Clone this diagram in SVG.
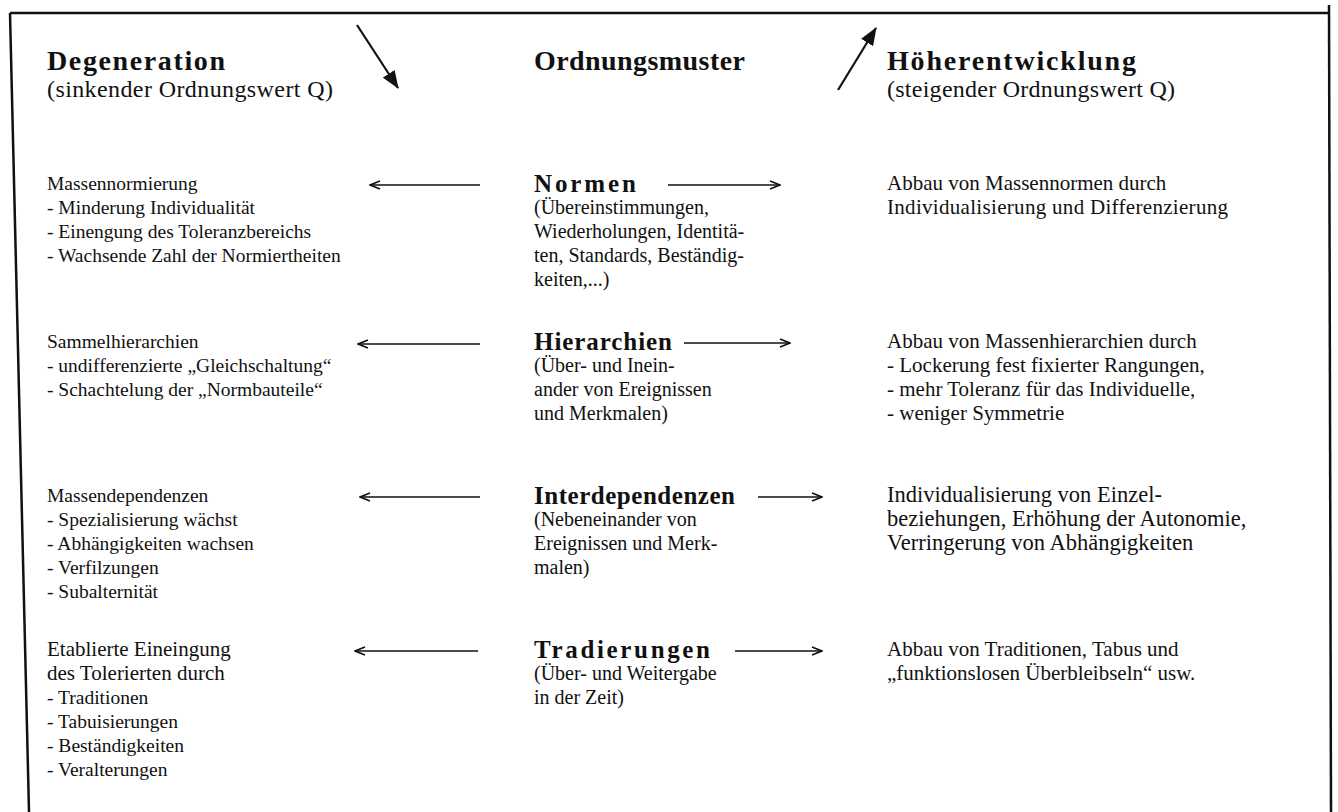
<svg xmlns="http://www.w3.org/2000/svg" width="1338" height="812" viewBox="0 0 1338 812">
<defs>
<style>
text { fill:#111; font-family:"Liberation Serif","Times New Roman",serif; }
.hd { font-size:28px; font-weight:bold; }
.sub { font-size:24px; }
.tt { font-size:25px; font-weight:bold; }
.tx { font-size:20px; }
.lt { font-size:19.5px; }
.rt { font-size:21px; }
.rt2 { font-size:22.5px; }
.ln { stroke:#111; fill:none; }
</style>
<marker id="open" viewBox="0 0 12 10" refX="11" refY="5" markerWidth="12" markerHeight="10" markerUnits="userSpaceOnUse" orient="auto">
<path d="M1,1 L11,5 L1,9" fill="none" stroke="#111" stroke-width="1.6"/>
</marker>
<marker id="fill" viewBox="0 0 18 14" refX="17" refY="7" markerWidth="18" markerHeight="14" markerUnits="userSpaceOnUse" orient="auto">
<path d="M0,0 L18,7 L0,14 Z" fill="#111"/>
</marker>
</defs>
<rect width="1338" height="812" fill="#fff"/>
<g id="frame" class="ln" stroke-width="2.5">
<path d="M10,13 L1329,13"/>
<path d="M10,13 L29,812"/>
<path d="M1329,5 L1331,812"/>
</g>
<g id="head-degeneration">
<text class="hd" x="47" y="70" textLength="178">Degeneration</text>
<text class="sub" x="47" y="97" textLength="286">(sinkender Ordnungswert Q)</text>
</g>
<g id="head-ordnungsmuster">
<text class="hd" x="534" y="70" textLength="211">Ordnungsmuster</text>
</g>
<g id="head-hoeher">
<text class="hd" x="887" y="70" textLength="249">Höherentwicklung</text>
<text class="sub" x="887" y="97" textLength="288">(steigender Ordnungswert Q)</text>
</g>
<g id="left-normen">
<text class="lt" x="47" y="190">Massennormierung</text>
<text class="lt" x="47" y="214">- Minderung Individualität</text>
<text class="lt" x="47" y="238">- Einengung des Toleranzbereichs</text>
<text class="lt" x="47" y="262">- Wachsende Zahl der Normiertheiten</text>
</g>
<g id="mid-normen">
<text class="tt" x="534" y="192" textLength="102">Normen</text>
<text class="tx" x="534" y="214">(Übereinstimmungen,</text>
<text class="tx" x="534" y="238">Wiederholungen, Identitä-</text>
<text class="tx" x="534" y="262">ten, Standards, Beständig-</text>
<text class="tx" x="534" y="286">keiten,...)</text>
</g>
<g id="right-normen">
<text class="rt" x="887" y="190">Abbau von Massennormen durch</text>
<text class="rt" x="887" y="214" textLength="341">Individualisierung und Differenzierung</text>
</g>
<g id="left-hierarchien">
<text class="lt" x="47" y="348">Sammelhierarchien</text>
<text class="lt" x="47" y="372">- undifferenzierte „Gleichschaltung“</text>
<text class="lt" x="47" y="396">- Schachtelung der „Normbauteile“</text>
</g>
<g id="mid-hierarchien">
<text class="tt" x="534" y="350" textLength="138">Hierarchien</text>
<text class="tx" x="534" y="372">(Über- und Inein-</text>
<text class="tx" x="534" y="396">ander von Ereignissen</text>
<text class="tx" x="534" y="420">und Merkmalen)</text>
</g>
<g id="right-hierarchien">
<text class="rt" x="887" y="348">Abbau von Massenhierarchien durch</text>
<text class="rt" x="887" y="372">- Lockerung fest fixierter Rangungen,</text>
<text class="rt" x="887" y="396">- mehr Toleranz für das Individuelle,</text>
<text class="rt" x="887" y="420">- weniger Symmetrie</text>
</g>
<g id="left-interdependenzen">
<text class="lt" x="47" y="502">Massendependenzen</text>
<text class="lt" x="47" y="526">- Spezialisierung wächst</text>
<text class="lt" x="47" y="550">- Abhängigkeiten wachsen</text>
<text class="lt" x="47" y="574">- Verfilzungen</text>
<text class="lt" x="47" y="598">- Subalternität</text>
</g>
<g id="mid-interdependenzen">
<text class="tt" x="534" y="504" textLength="201">Interdependenzen</text>
<text class="tx" x="534" y="526">(Nebeneinander von</text>
<text class="tx" x="534" y="550">Ereignissen und Merk-</text>
<text class="tx" x="534" y="574">malen)</text>
</g>
<g id="right-interdependenzen">
<text class="rt2" x="887" y="502">Individualisierung von Einzel-</text>
<text class="rt2" x="887" y="526">beziehungen, Erhöhung der Autonomie,</text>
<text class="rt2" x="887" y="550">Verringerung von Abhängigkeiten</text>
</g>
<g id="left-tradierungen">
<text class="rt" x="47" y="656">Etablierte Eineingung</text>
<text class="rt" x="47" y="680">des Tolerierten durch</text>
<text class="lt" x="47" y="704">- Traditionen</text>
<text class="lt" x="47" y="728">- Tabuisierungen</text>
<text class="lt" x="47" y="752">- Beständigkeiten</text>
<text class="lt" x="47" y="776">- Veralterungen</text>
</g>
<g id="mid-tradierungen">
<text class="tt" x="534" y="658" textLength="176">Tradierungen</text>
<text class="tx" x="534" y="680">(Über- und Weitergabe</text>
<text class="tx" x="534" y="704">in der Zeit)</text>
</g>
<g id="right-tradierungen">
<text class="rt" x="887" y="656">Abbau von Traditionen, Tabus und</text>
<text class="rt" x="887" y="680">„funktionslosen Überbleibseln“ usw.</text>
</g>
<g id="connectors" class="ln">
<path d="M357,25 L398,88" stroke-width="2.2" marker-end="url(#fill)"/>
<path d="M838,90 L876,28" stroke-width="2.2" marker-end="url(#fill)"/>
<path d="M480,185 L370,185" stroke-width="1.5" marker-end="url(#open)"/>
<path d="M668,185 L780,185" stroke-width="1.5" marker-end="url(#open)"/>
<path d="M480,344 L358,344" stroke-width="1.5" marker-end="url(#open)"/>
<path d="M684,343 L790,343" stroke-width="1.5" marker-end="url(#open)"/>
<path d="M480,497 L360,497" stroke-width="1.5" marker-end="url(#open)"/>
<path d="M758,497 L822,497" stroke-width="1.5" marker-end="url(#open)"/>
<path d="M478,651 L355,651" stroke-width="1.5" marker-end="url(#open)"/>
<path d="M735,651 L822,651" stroke-width="1.5" marker-end="url(#open)"/>
</g>
</svg>
